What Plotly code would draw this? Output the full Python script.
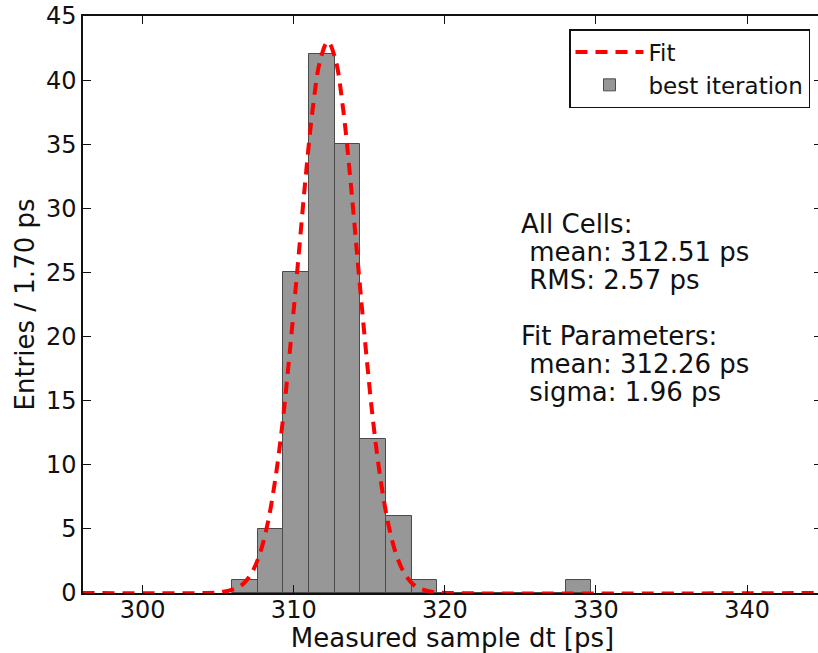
import plotly.graph_objects as go

# histogram of measured sample dt, 1.70 ps bins
BIN_WIDTH = 1.70
bin_left = [305.9, 307.6, 309.3, 311.0, 312.7, 314.4, 316.1, 317.8,
            319.5, 321.2, 322.9, 324.6, 326.3, 328.0]
counts = [1, 5, 25, 42, 35, 12, 6, 1, 0, 0, 0, 0, 0, 1]

# gaussian fit
fit_x = [296.0, 304.26, 305.26, 306.26, 306.76, 307.26, 307.76, 308.26, 308.76,
         309.26, 309.76, 310.26, 310.76, 311.26, 311.76, 312.26, 312.76, 313.26,
         313.76, 314.26, 314.76, 315.26, 315.76, 316.26, 316.76, 317.26, 317.76,
         318.26, 319.26, 320.26, 345.0]
fit_y = [0, 0, 0.07, 0.40, 0.84, 1.66, 3.08, 5.36, 8.73,
         13.3, 19.1, 25.5, 32.1, 37.8, 41.6, 43.0, 41.6, 37.8,
         32.1, 25.5, 19.1, 13.3, 8.73, 5.36, 3.08, 1.66, 0.84,
         0.40, 0.07, 0, 0]

stats_lines = ["All Cells:", " mean: 312.51 ps", " RMS: 2.57 ps", "",
               "Fit Parameters:", " mean: 312.26 ps", " sigma: 1.96 ps"]

FONT = "DejaVu Sans"
FS = 24
INK = "#111111"

PLOT_W = 739
PLOT_H = 577

bin_center = [b + BIN_WIDTH / 2 for b in bin_left]

fig = go.Figure()
fig.add_trace(go.Bar(
    x=bin_center, y=counts, width=BIN_WIDTH, name="best iteration",
    marker=dict(color="#979797", line=dict(color="#4a4a4a", width=1)),
    legendrank=2,
))
fig.add_trace(go.Scatter(
    x=fit_x, y=fit_y, mode="lines", name="Fit", line_shape="spline",
    line=dict(color="#ff0000", width=4, dash="12px,8px"),
    legendrank=1,
))

# stats text block, one annotation per line
for i, line in enumerate(stats_lines):
    if not line:
        continue
    fig.add_annotation(
        xref="paper", yref="paper", x=436 / PLOT_W, y=(PLOT_H - 208 - i * 28) / PLOT_H,
        xanchor="left", yanchor="middle", showarrow=False, align="left",
        text=line.replace(" ", "\u00a0"),
        font=dict(family=FONT, size=26, color=INK),
    )

axis_common = dict(
    showgrid=False, zeroline=False, showline=True, linecolor=INK, linewidth=1.5,
    mirror="ticks", ticks="inside", ticklen=8, tickwidth=1, tickcolor=INK,
    tickfont=dict(family=FONT, size=FS, color=INK), automargin=False,
)
fig.update_xaxes(range=[296.05, 344.96], tickmode="array", tickvals=[300, 310, 320, 330, 340],
                 title=dict(text="Measured sample dt [ps]", font=dict(family=FONT, size=26, color=INK), standoff=0),
                 ticklabelstandoff=-6,
                 **axis_common)
fig.update_yaxes(range=[0, 45], tickmode="array", tickvals=list(range(0, 46, 5)),
                 title=dict(text="Entries / 1.70 ps", font=dict(family=FONT, size=26, color=INK), standoff=4),
                 **axis_common)

# figure is a little wider than the window so the right spine sits just off-page
fig.update_layout(
    width=822, height=653,
    margin=dict(l=83, r=0, t=16, b=60),
    plot_bgcolor="white", paper_bgcolor="white",
    bargap=0,
    showlegend=True,
    legend=dict(
        x=(810 - 83) / PLOT_W, y=(PLOT_H - 13) / PLOT_H, xanchor="right", yanchor="top",
        bordercolor=INK, borderwidth=1.5, bgcolor="white",
        font=dict(family=FONT, size=23, color=INK),
        itemwidth=68, traceorder="normal",
    ),
)

fig.write_html("out.html", config={"displayModeBar": False},
               post_script="document.body.style.margin='0';document.body.style.overflow='hidden';")
